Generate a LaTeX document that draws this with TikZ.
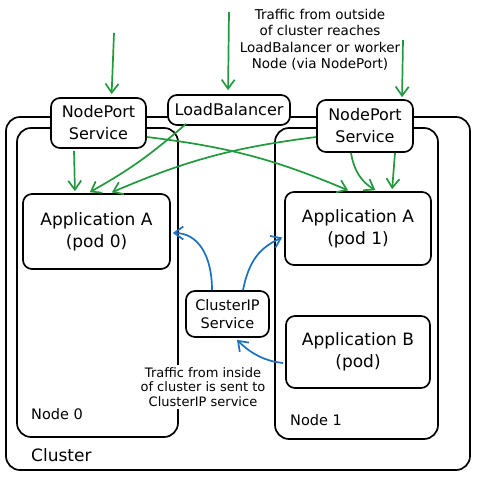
\documentclass[tikz,border=0pt]{standalone}
\usepackage{fontspec}
\setmainfont{DejaVu Sans}
\usepackage{tikz}
\usetikzlibrary{arrows.meta, positioning, calc}

\definecolor{sketchgreen}{HTML}{22993D}
\definecolor{sketchblue}{HTML}{1971C2}
\newcommand{\fsz}[2]{\fontsize{#1}{#2}\selectfont}

\begin{document}
\begin{tikzpicture}[x=1pt, y=-1pt,
    zone/.style={draw, line width=1.7pt, rounded corners=14pt, inner sep=0pt},
    box/.style={draw, line width=1.7pt, rounded corners=9pt, fill=white, align=center, inner sep=0pt},
    lbl/.style={anchor=west, inner sep=0pt},
    note/.style={align=center, inner sep=3pt},
    garrow/.style={draw=sketchgreen, line width=1.7pt, -{Straight Barb[length=9pt, width=13pt]}},
    barrow/.style={draw=sketchblue, line width=1.7pt, -{Straight Barb[length=9pt, width=13pt]}}]

  \useasboundingbox (0,0) rectangle (478,478);

  % cluster and worker nodes
  \node[zone, minimum width=464pt, minimum height=353pt] (cluster) at (238,293.5) {};
  \node[zone, minimum width=161pt, minimum height=309pt] (node0) at (97.5,282.5) {};
  \node[zone, minimum width=163pt, minimum height=311pt] (node1) at (356.5,283.5) {};
  \node[lbl, font=\fsz{17}{19}] (clusterlbl) at (31,455) {Cluster};
  \node[lbl, font=\fsz{14.5}{17}] (node0lbl) at (31,414) {Node 0};
  \node[lbl, font=\fsz{14.5}{17}] (node1lbl) at (290,420) {Node 1};

  % services and pods
  \node[box, minimum width=95pt, minimum height=50pt, font=\fsz{16}{22}] (np0) at (98.5,123) {NodePort\\Service};
  \node[box, minimum width=122pt, minimum height=30pt, font=\fsz{16}{18}] (lb) at (229,110) {LoadBalancer};
  \node[box, minimum width=96pt, minimum height=52pt, font=\fsz{16}{22}] (np1) at (365,126) {NodePort\\Service};
  \node[box, minimum width=147pt, minimum height=75pt, font=\fsz{17}{22}] (pod0) at (96.5,231.5) {Application A\\(pod 0)};
  \node[box, minimum width=146pt, minimum height=73pt, font=\fsz{17}{22}] (pod1) at (358,228.5) {Application A\\(pod 1)};
  \node[box, minimum width=144pt, minimum height=72pt, font=\fsz{17}{22}] (podb) at (358,352) {Application B\\(pod)};
  \node[box, minimum width=83pt, minimum height=46pt, font=\fsz{14.5}{18}] (cip) at (227.5,314) {ClusterIP\\Service};

  % notes
  \node[note, font=\fsz{13.5}{16.5}] (outside) at (320,40) {Traffic from outside\\of cluster reaches\\LoadBalancer or worker\\Node (via NodePort)};
  \node[note, fill=white, inner sep=2pt, font=\fsz{13}{14.5}] (inside) at (203,387) {Traffic from inside\\of cluster is sent to\\ClusterIP service};

  % outside traffic
  \coordinate (np0in) at (114,33);
  \coordinate (lbin) at (229,12);
  \coordinate (np1in) at (403,40);
  \draw[garrow, shorten >=3pt] (np0in) -- ($(np0.north)+(13,0)$);
  \draw[garrow, shorten >=4pt] (lbin) -- ($(lb.north)+(-1,0)$);
  \draw[garrow, shorten >=2pt] (np1in) -- ($(np1.north)+(37,0)$);

  % to the pods
  \draw[garrow, shorten >=2pt] ($(np0.south)+(-24.5,2)$) -- ($(pod0.north)+(-21.5,0)$);
  \draw[garrow, shorten >=2pt] ($(lb.south)+(-43,-2)$) to[bend left=6] ($(pod0.north)+(-8.5,0)$);
  \draw[garrow, shorten >=2pt] ($(np1.west)+(0,11)$) to[bend right=8] ($(pod0.north)+(13.5,0)$);
  \draw[garrow, shorten >=2pt] ($(np0.east)+(0,14)$) to[bend left=8] ($(pod1.north)+(-8,0)$);
  \draw[garrow, shorten >=2pt] ($(np1.south)+(-14,0)$) to[bend right=25] ($(pod1.north)+(19,0)$);
  \draw[garrow, shorten >=2pt] ($(np1.south)+(30,0)$) -- ($(pod1.north)+(34,0)$);

  % inside traffic
  \draw[barrow] ($(cip.north)+(-15.5,0)$) .. controls +(0,-35) and +(25,0) .. ($(pod0.east)+(2,1.5)$);
  \draw[barrow] ($(cip.north)+(15.5,0)$) .. controls +(6,-30) and +(-22,10) .. ($(pod1.west)+(-2,9)$);
  \draw[barrow] ($(podb.west)+(-2,11)$) .. controls +(-22,-2) and +(10,10) .. ($(cip.south)+(9.5,2)$);
\end{tikzpicture}
\end{document}
